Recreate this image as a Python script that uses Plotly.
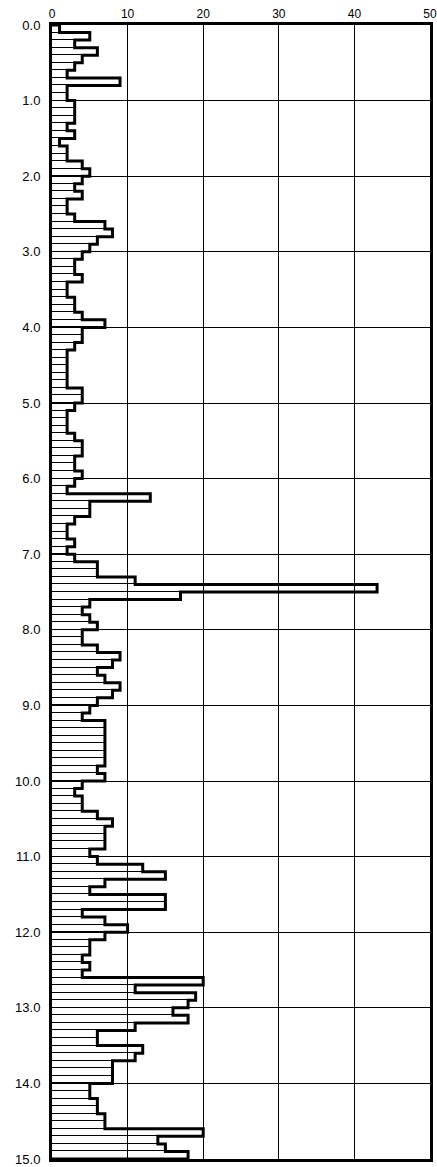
import plotly.graph_objects as go

# Depth interval tops (every 0.1 from 0.0 to 14.9)
depth_step = 0.1
values = [
    1, 5, 3, 6, 4, 3, 2, 9, 2, 2,          # 0.0 - 0.9
    3, 3, 3, 2, 3, 1, 2, 2, 4, 5,          # 1.0 - 1.9
    4, 3, 4, 2, 2, 3, 7, 8, 6, 5,          # 2.0 - 2.9
    4, 3, 3, 4, 2, 2, 3, 3, 4, 7,          # 3.0 - 3.9
    4, 4, 3, 2, 2, 2, 2, 2, 4, 4,          # 4.0 - 4.9
    3, 2, 2, 2, 3, 4, 4, 3, 3, 4,          # 5.0 - 5.9
    3, 2, 13, 5, 5, 3, 2, 2, 3, 2,         # 6.0 - 6.9
    3, 6, 6, 11, 43, 17, 5, 4, 5, 6,       # 7.0 - 7.9
    4, 4, 6, 9, 8, 6, 7, 9, 8, 6,          # 8.0 - 8.9
    5, 4, 7, 7, 7, 7, 7, 7, 6, 7,          # 9.0 - 9.9
    4, 3, 4, 4, 6, 8, 7, 7, 7, 5,          # 10.0 - 10.9
    6, 12, 15, 7, 5, 15, 15, 4, 7, 10,     # 11.0 - 11.9
    7, 5, 5, 4, 5, 4, 20, 11, 19, 18,      # 12.0 - 12.9
    16, 18, 11, 6, 6, 12, 11, 8, 8, 8,     # 13.0 - 13.9
    5, 5, 6, 6, 7, 7, 20, 14, 15, 18,      # 14.0 - 14.9
]
depth_tops = [round(i * depth_step, 1) for i in range(len(values))]
depth_ticks = list(range(0, 16))
depth_tick_labels = [f"{d:.1f}" for d in depth_ticks]
x_ticks = [0, 10, 20, 30, 40, 50]

# Horizontal bars (thin outlines)
bar_centers = [d + depth_step / 2 for d in depth_tops]

# Thick step outline derived from the data
step_x = [0]
step_y = [depth_tops[0]]
for d, v in zip(depth_tops, values):
    step_x += [v, v]
    step_y += [d, d + depth_step]
step_x.append(0)
step_y.append(depth_tops[-1] + depth_step)

fig = go.Figure()
fig.add_trace(go.Bar(
    x=values, y=bar_centers, orientation="h", width=depth_step,
    marker=dict(color="rgba(0,0,0,0)", line=dict(color="black", width=1)),
    hoverinfo="skip", showlegend=False,
))
fig.add_trace(go.Scatter(
    x=step_x, y=step_y, mode="lines",
    line=dict(color="black", width=3),
    showlegend=False, hoverinfo="skip",
))

fig.update_layout(
    width=437, height=1167,
    margin=dict(l=52, r=7, t=25, b=8),
    paper_bgcolor="white", plot_bgcolor="white",
    font=dict(family="Liberation Sans, Arial, sans-serif", size=13, color="black"),
    bargap=0,
)
fig.update_xaxes(
    side="top", range=[0, 50], tickvals=x_ticks,
    showgrid=True, gridcolor="black", gridwidth=1,
    showline=True, linecolor="black", linewidth=3, mirror=True,
    ticks="", ticklabelstandoff=-1, ticklabeloverflow="allow",
    zeroline=False, tickfont=dict(size=12), automargin=False,
)
fig.update_yaxes(
    range=[15, 0], tickvals=depth_ticks, ticktext=depth_tick_labels,
    showgrid=True, gridcolor="black", gridwidth=1,
    showline=True, linecolor="black", linewidth=3, mirror=True,
    ticks="outside", ticklen=6, tickcolor="rgba(0,0,0,0)",
    zeroline=False, tickfont=dict(size=13), automargin=False,
)

fig.write_html(
    "out.html",
    config={"displayModeBar": False},
    post_script="document.body.style.margin='0';document.body.style.overflow='hidden';",
)
